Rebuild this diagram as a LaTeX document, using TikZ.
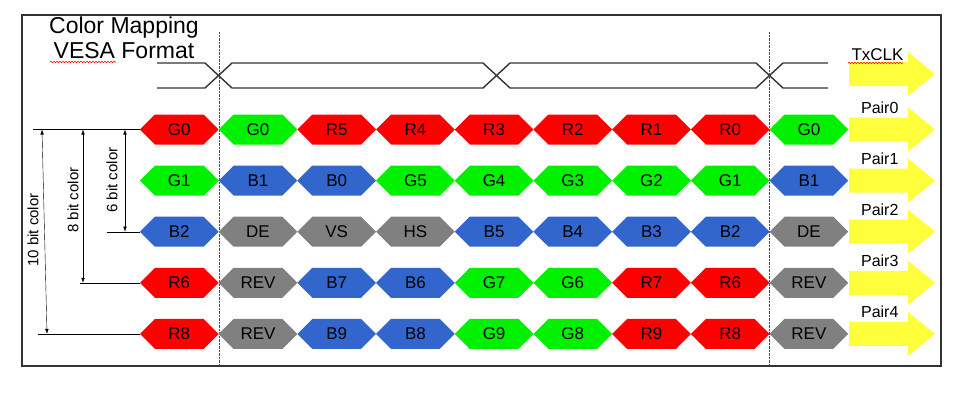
\documentclass[tikz,border=0pt]{standalone}
\usepackage{fontspec}
\setmainfont{Liberation Sans}
\usetikzlibrary{shapes.symbols,arrows.meta,decorations.pathmorphing}
\definecolor{cred}{HTML}{FF0000}
\definecolor{cgreen}{HTML}{00F000}
\definecolor{cblue}{HTML}{3366CC}
\definecolor{cgray}{HTML}{808080}
\definecolor{cyellow}{HTML}{FFFF3C}

\begin{document}
\begin{tikzpicture}[x=1pt,y=-1pt,>={Latex[length=5pt,width=3.5pt]},
        cell/.style={shape=signal, signal to=east and west, signal pointer angle=90,
            fill=#1, minimum width=78.7pt, minimum height=30pt, inner sep=0pt,
            font=\fontsize{17}{17}\selectfont},
        pairlabel/.style={anchor=base east, font=\fontsize{16}{16}\selectfont},
        bitlabel/.style={rotate=90, font=\fontsize{15}{15}\selectfont},
        clk/.style={line width=1.4pt, black!80},
        spell/.style={red, line width=0.6pt, decorate,
            decoration={snake, amplitude=0.7pt, segment length=3pt}}]
        \useasboundingbox (0,0) rectangle (972,408);
        \draw [line width=1.5pt, black!80] (22,15) rectangle (941,366);
        % title
        \node [anchor=base, font=\fontsize{23}{23}\selectfont] (title1) at (124,33) {Color Mapping};
        \node [anchor=base, font=\fontsize{23}{23}\selectfont] (title2) at (124,58) {VESA Format};
        \draw [spell] (50,62) -- (116,62);
        % frame boundaries
        \draw [densely dotted, black!70] (218.7,32) -- (218.7,366);
        \draw [densely dotted, black!70] (769.6,32) -- (769.6,366);
        % clock
        \draw [clk] (157,63) -- (205,63) -- (232,88) -- (483,88) -- (510,63) -- (756,63) -- (783,88) -- (828,88);
        \draw [clk] (157,88) -- (205,88) -- (232,63) -- (483,63) -- (510,88) -- (756,88) -- (783,63) -- (828,63);
        % output arrows
        \foreach \y in {74,129.5,180.6,231.7,282.8,333.9}
            \fill [cyellow] (849,\y-12) -- (908,\y-12) -- (908,\y-22) -- (935,\y)
                -- (908,\y+22) -- (908,\y+12) -- (849,\y+12) -- cycle;
        \node [anchor=base west, font=\fontsize{17}{17}\selectfont] (txclk) at (848,60) {TxCLK};
        \draw [spell] (848,63) -- (903,63);
        \foreach \i in {0,...,4}
            \node [pairlabel] (pair\i) at (902,129.5+51.1*\i-16) {Pair\i};
        % data cells
        \foreach \row [count=\i from 0] in {
                {G0/cred,G0/cgreen,R5/cred,R4/cred,R3/cred,R2/cred,R1/cred,R0/cred,G0/cgreen},
                {G1/cgreen,B1/cblue,B0/cblue,G5/cgreen,G4/cgreen,G3/cgreen,G2/cgreen,G1/cgreen,B1/cblue},
                {B2/cblue,DE/cgray,VS/cgray,HS/cgray,B5/cblue,B4/cblue,B3/cblue,B2/cblue,DE/cgray},
                {R6/cred,REV/cgray,B7/cblue,B6/cblue,G7/cgreen,G6/cgreen,R7/cred,R6/cred,REV/cgray},
                {R8/cred,REV/cgray,B9/cblue,B8/cblue,G9/cgreen,G8/cgreen,R9/cred,R8/cred,REV/cgray}}
            \foreach \txt/\col [count=\k from 0] in \row
                \node [cell=\col] (c\i\k) at (179.3+78.7*\k,129.5+51.1*\i) {\txt};
        % bit depth brackets
        \coordinate (six) at (125,0);
        \coordinate (eight) at (83,0);
        \coordinate (tentop) at (42,0);
        \coordinate (tenbot) at (47,0);
        \draw (c00.west) -- ++(-107,0);
        \draw (c20.west) -- ++(-33,0);
        \draw (c30.west) -- ++(-60,0);
        \draw (c40.west) -- ++(-102,0);
        \draw [<->] (c00.west -| six) -- (c20.west -| six);
        \draw [<->] (c00.west -| eight) -- (c30.west -| eight);
        \draw [<->] (c00.west -| tentop) -- (c40.west -| tenbot);
        \node [bitlabel] (bit6) at (112,180) {6 bit color};
        \node [bitlabel] (bit8) at (73,200) {8 bit color};
        \node [bitlabel] (bit10) at (33,230) {10 bit color};
    \end{tikzpicture}
\end{document}
